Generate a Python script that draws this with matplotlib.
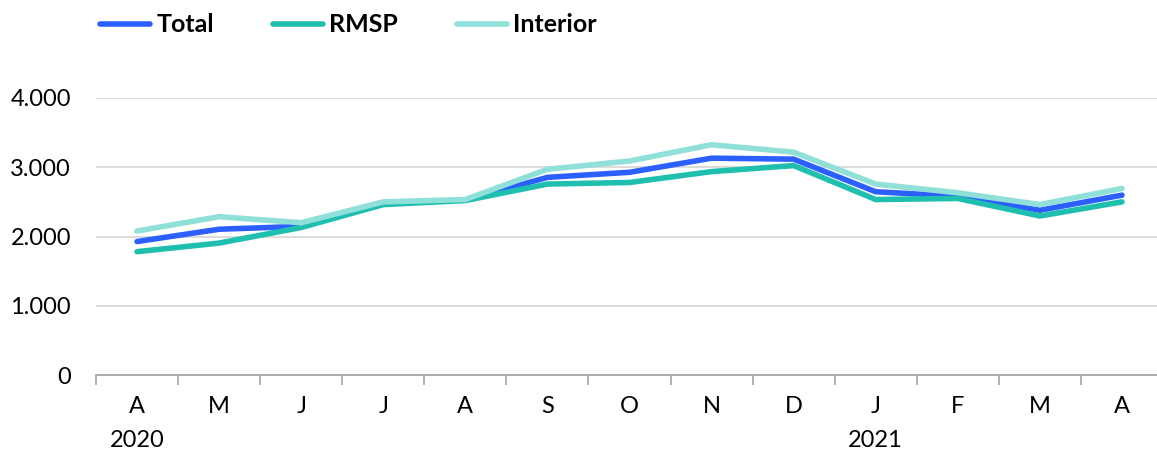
import matplotlib
matplotlib.use("Agg")
import matplotlib.pyplot as plt
import numpy as np

months = ["A", "M", "J", "J", "A", "S", "O", "N", "D", "J", "F", "M", "A"]
years = {0: "2020", 9: "2021"}

total = [1927, 2105, 2146, 2480, 2525, 2854, 2927, 3131, 3117, 2646, 2583, 2379, 2597]
rmsp = [1781, 1905, 2130, 2461, 2519, 2757, 2780, 2937, 3024, 2534, 2549, 2296, 2500]
interior = [2079, 2286, 2199, 2500, 2534, 2971, 3090, 3325, 3218, 2757, 2631, 2461, 2694]

series = [("Total", total, "#2B5FFF"),
          ("RMSP", rmsp, "#1FBFAF"),
          ("Interior", interior, "#8FE0D8")]

plt.rcParams['font.family'] = ['Lato', 'DejaVu Sans']

W, H = 1157, 451
fig = plt.figure(figsize=(W / 100, H / 100), dpi=100)
left, right = 96 / W, 1163 / W
bottom, top = (H - 375) / H, (H - 98) / H
ax = fig.add_axes([left, bottom, right - left, top - bottom])

x = np.arange(len(months))
for name, vals, col in series:
    ax.plot(x, vals, color=col, lw=4, solid_capstyle='round',
            solid_joinstyle='miter', label=name)

ax.set_xlim(-0.5, len(months) - 0.5)
ax.set_ylim(0, 4000)
ax.set_yticks([0, 1000, 2000, 3000, 4000])
ax.set_yticklabels(["0", "1.000", "2.000", "3.000", "4.000"], fontsize=17)
ax.tick_params(axis='y', length=0, pad=18)

ax.set_xticks(x)
ax.set_xticklabels(months, fontsize=17)
ax.set_xticks(np.arange(-0.5, len(months), 1), minor=True)
ax.tick_params(axis='x', which='major', length=0, pad=15)
ax.tick_params(axis='x', which='minor', length=7, width=1.2, color='#a6a6a6', direction='out')

for i, yr in years.items():
    ax.annotate(yr, xy=(i, 0), xycoords=('data', 'axes fraction'),
                xytext=(0, -47.5), textcoords='offset points',
                ha='center', va='center', fontsize=17)

ax.yaxis.grid(True, color='#d9d9d9', lw=1.3)
ax.set_axisbelow(True)
for s in ['left', 'right', 'top']:
    ax.spines[s].set_visible(False)
ax.spines['bottom'].set_color('#a6a6a6')
ax.spines['bottom'].set_linewidth(1.3)
ax.spines['bottom'].set_zorder(1)

leg = fig.legend(loc='center left', bbox_to_anchor=(100 / W, 1 - 25 / H), ncol=3,
                 frameon=False, prop={'weight': 'bold', 'size': 18},
                 handlelength=2.0, handletextpad=0.25, columnspacing=2.35,
                 borderpad=0, borderaxespad=0)

fig.savefig("out.png", dpi=100)
